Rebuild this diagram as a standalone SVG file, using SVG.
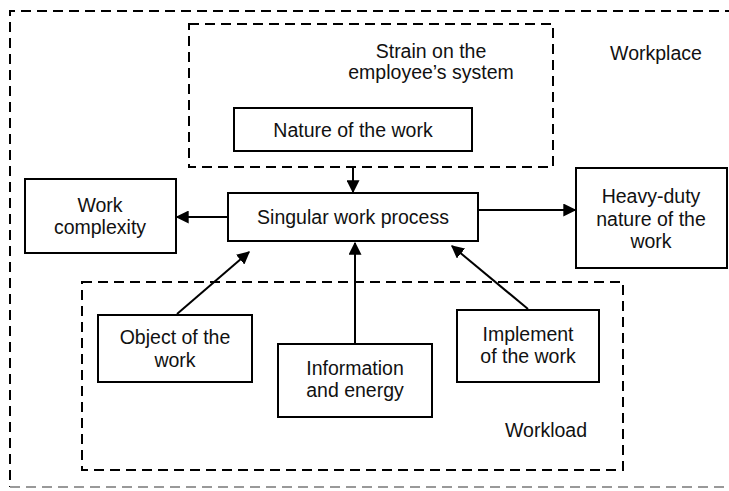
<svg xmlns="http://www.w3.org/2000/svg" width="729" height="491" viewBox="0 0 729 491">
<defs>
<style>
.box{fill:#fff;stroke:#000;stroke-width:2}
.dash{fill:none;stroke:#000;stroke-width:2;stroke-dasharray:10 6}
.faint{fill:none;stroke:#999;stroke-width:2;stroke-dasharray:10 6}
.conn{stroke:#000;stroke-width:2;fill:none;marker-end:url(#ah)}
text{font-family:"Liberation Sans",Arial,sans-serif;font-size:19.5px;fill:#111;text-anchor:middle}
</style>
<marker id="ah" viewBox="0 0 10 10" refX="9" refY="5" markerWidth="6.5" markerHeight="6.5" markerUnits="strokeWidth" orient="auto">
<path d="M0,0 L10,5 L0,10 z" fill="#000"/>
</marker>
</defs>
<rect width="729" height="491" fill="#fff"/>
<g id="workplace">
<path class="dash" d="M735,11 H10 V487"/>
<path class="faint" d="M10,487 H735"/>
<text x="656" y="60">Workplace</text>
</g>
<g id="strain">
<rect class="dash" x="189" y="24" width="364" height="143"/>
<text x="431" y="58">Strain on the</text>
<text x="431" y="79">employee’s system</text>
</g>
<g id="workload">
<rect class="dash" x="82" y="282" width="541" height="188"/>
<text x="546" y="437">Workload</text>
</g>
<g id="nature">
<rect class="box" x="234" y="108" width="238" height="43"/>
<text x="353" y="137">Nature of the work</text>
</g>
<g id="singular">
<rect class="box" x="228" y="193" width="250" height="48"/>
<text x="353" y="224">Singular work process</text>
</g>
<g id="complexity">
<rect class="box" x="25" y="179" width="151" height="74"/>
<text x="100" y="212">Work</text>
<text x="100" y="234">complexity</text>
</g>
<g id="heavy">
<rect class="box" x="576" y="168" width="151" height="100"/>
<text x="651" y="203">Heavy-duty</text>
<text x="651" y="226">nature of the</text>
<text x="651" y="248">work</text>
</g>
<g id="object">
<rect class="box" x="98" y="315" width="154" height="67"/>
<text x="175" y="344">Object of the</text>
<text x="175" y="367">work</text>
</g>
<g id="info">
<rect class="box" x="278" y="344" width="154" height="73"/>
<text x="355" y="375">Information</text>
<text x="355" y="397">and energy</text>
</g>
<g id="implement">
<rect class="box" x="457" y="310" width="142" height="72"/>
<text x="528" y="341">Implement</text>
<text x="528" y="363">of the work</text>
</g>
<g id="connectors">
<line class="conn" x1="353" y1="167" x2="353" y2="192"/>
<line class="conn" x1="228" y1="217" x2="177" y2="217"/>
<line class="conn" x1="478" y1="210" x2="575" y2="210"/>
<line class="conn" x1="177" y1="314" x2="249" y2="252"/>
<line class="conn" x1="355" y1="344" x2="355" y2="243"/>
<line class="conn" x1="528" y1="309" x2="452" y2="246"/>
</g>
</svg>
